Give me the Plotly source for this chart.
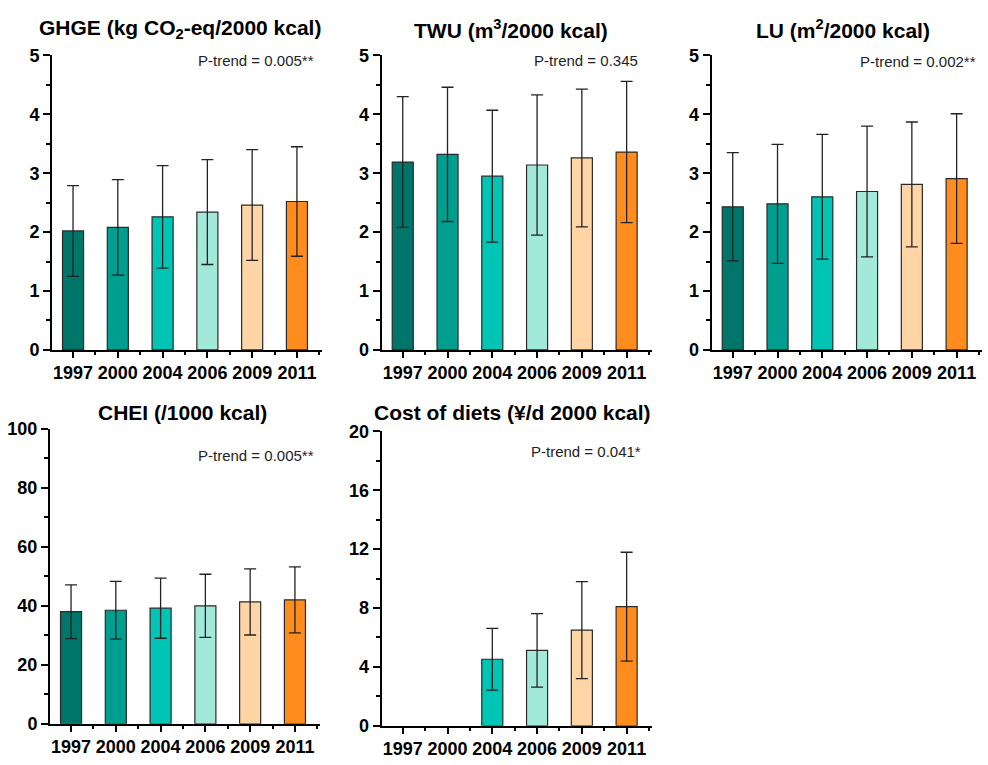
import plotly.graph_objects as go

# Survey years and per-year colours
years = ["1997", "2000", "2004", "2006", "2009", "2011"]
bar_colors = ["#00756A", "#009E8F", "#00C5B5", "#A3E9DA", "#FFD5A6", "#FF8C1C"]

# Mean values and standard deviations per indicator
ghge_mean = [2.02, 2.08, 2.26, 2.34, 2.46, 2.52]
ghge_sd = [0.77, 0.81, 0.87, 0.89, 0.94, 0.93]

twu_mean = [3.19, 3.32, 2.95, 3.14, 3.26, 3.36]
twu_sd = [1.11, 1.14, 1.12, 1.19, 1.17, 1.20]

lu_mean = [2.43, 2.48, 2.60, 2.69, 2.81, 2.91]
lu_sd = [0.92, 1.01, 1.06, 1.11, 1.06, 1.10]

chei_mean = [38.0, 38.5, 39.2, 40.0, 41.3, 42.0]
chei_sd = [9.1, 9.8, 10.2, 10.7, 11.2, 11.2]

cost_mean = [None, None, 4.52, 5.12, 6.50, 8.09]
cost_sd = [None, None, 2.10, 2.50, 3.30, 3.70]

titles = [
    "GHGE (kg CO<sub>2</sub>-eq/2000 kcal)",
    "TWU (m<sup>3</sup>/2000 kcal)",
    "LU (m<sup>2</sup>/2000 kcal)",
    "CHEI (/1000 kcal)",
    "Cost of diets (¥/d 2000 kcal)",
]
p_trends = [
    "P-trend = 0.005**",
    "P-trend = 0.345",
    "P-trend = 0.002**",
    "P-trend = 0.005**",
    "P-trend = 0.041*",
]
y_max = [5, 5, 5, 100, 20]
y_step = [1, 1, 1, 20, 4]

means = [ghge_mean, twu_mean, lu_mean, chei_mean, cost_mean]
sds = [ghge_sd, twu_sd, lu_sd, chei_sd, cost_sd]

W, H = 988, 765
# panel boxes in pixels: left, right, top, bottom
boxes = [
    (52, 322, 46.7, 349),
    (381.7, 651.7, 46.7, 349),
    (711.7, 981.7, 46.7, 349),
    (50, 320, 430, 733),
    (381.7, 651.7, 432.7, 735),
]
title_pos = [(180, 20), (511, 20), (843, 20), (182, 413), (512, 413)]
ptrend_pos = [(316, 52), (640, 52), (978, 53), (316, 457), (643, 453)]

FONT = "Arial, Liberation Sans, sans-serif"
positions = list(range(len(years)))

fig = go.Figure()
for i in range(5):
    ax = "" if i == 0 else str(i + 1)
    fig.add_trace(go.Bar(
        x=positions,
        y=means[i],
        width=0.47,
        marker=dict(color=bar_colors, line=dict(color="#2a2a2a", width=1.2)),
        error_y=dict(type="data", array=sds[i], visible=True,
                     color="#222222", thickness=1.3, width=6),
        xaxis="x" + ax, yaxis="y" + ax,
        showlegend=False,
    ))
    l, r, t, b = boxes[i]
    fig.layout["xaxis" + ax] = dict(
        domain=[l / W, r / W], anchor="y" + ax,
        range=[-0.47, 5.56],
        tickmode="array", tickvals=positions, ticktext=years,
        showline=True, linecolor="black", linewidth=2,
        ticks="outside", ticklen=6, tickwidth=2, tickcolor="black",
        minor=dict(ticks="outside", tick0=0.5, dtick=1, ticklen=3,
                   tickwidth=1.5, tickcolor="black"),
        tickfont=dict(family=FONT, size=18, color="black", weight="bold"),
        ticklabelstandoff=0,
        showgrid=False, zeroline=False, fixedrange=True,
    )
    fig.layout["yaxis" + ax] = dict(
        domain=[1 - b / H, 1 - t / H], anchor="x" + ax,
        range=[0, y_max[i]], dtick=y_step[i], tick0=0,
        showline=True, linecolor="black", linewidth=2,
        ticks="outside", ticklen=7, tickwidth=2, tickcolor="black",
        minor=dict(ticks="outside", dtick=y_step[i] / 2, ticklen=4,
                   tickwidth=1.5, tickcolor="black"),
        tickfont=dict(family=FONT, size=18, color="black", weight="bold"),
        showgrid=False, zeroline=False, fixedrange=True,
    )
    tx, ty = title_pos[i]
    fig.add_annotation(
        text="<b>" + titles[i] + "</b>", xref="paper", yref="paper",
        x=tx / W, y=1 - ty / H, xanchor="center", yanchor="middle",
        showarrow=False, font=dict(family=FONT, size=21, color="black"),
    )
    px_, py_ = ptrend_pos[i]
    fig.add_annotation(
        text=p_trends[i], xref="paper", yref="paper",
        x=px_ / W, y=1 - py_ / H, xanchor="right", yanchor="middle",
        showarrow=False, font=dict(family=FONT, size=15, color="#222222"),
    )

fig.update_layout(
    width=W, height=H,
    margin=dict(l=0, r=0, t=0, b=0),
    paper_bgcolor="white", plot_bgcolor="white",
    bargap=0.5,
)

fig.write_html("out.html")
